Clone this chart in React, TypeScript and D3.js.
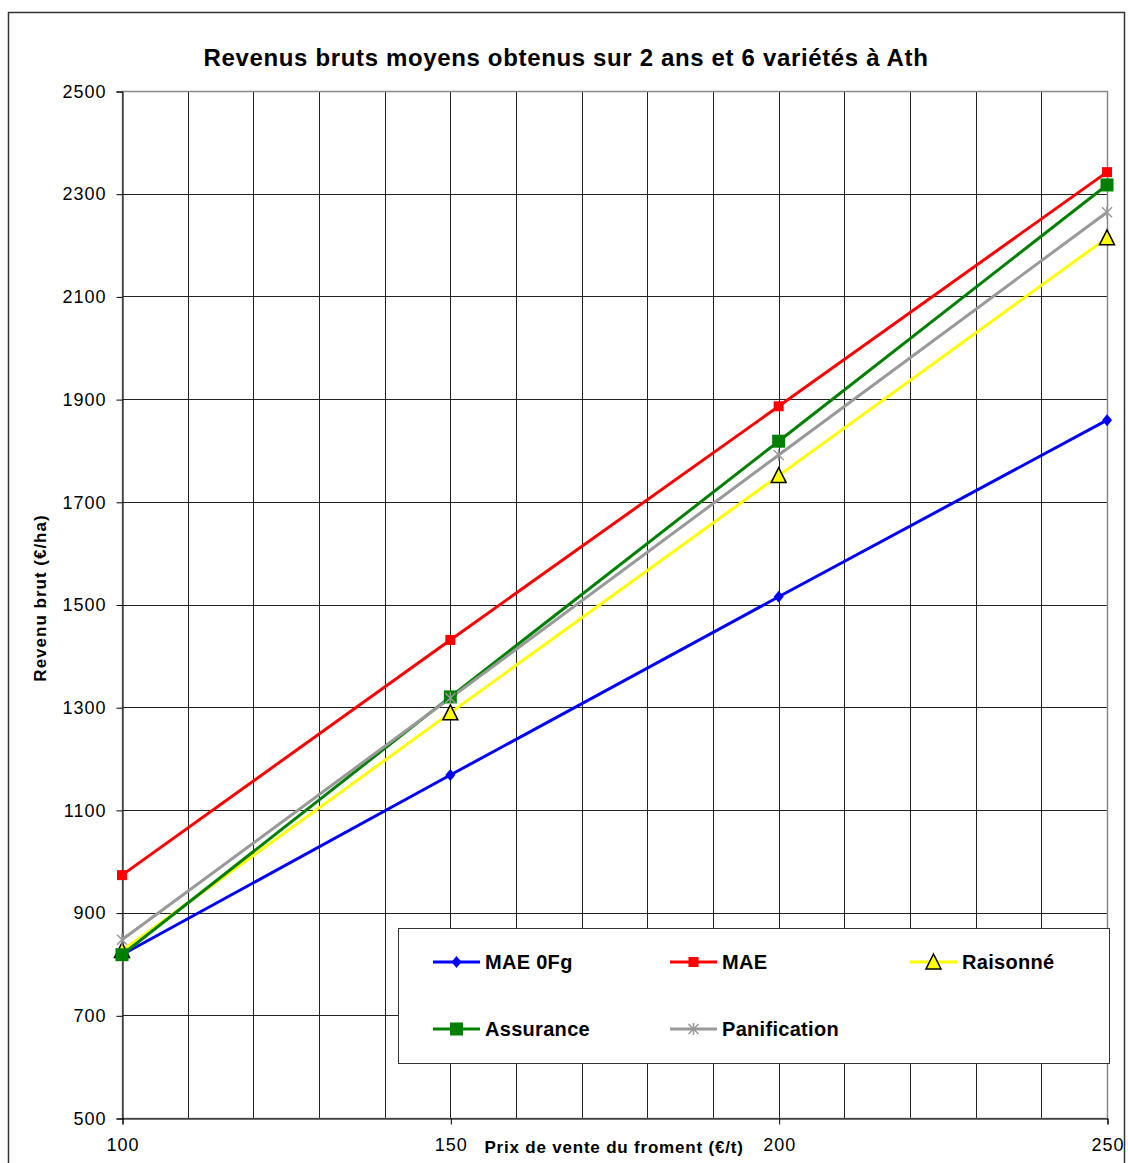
import { useEffect, useRef } from "react";
import * as d3 from "d3";

const prices = [100, 150, 200, 250];
const mae0fg = [818, 1168, 1515, 1859];
const mae = [973, 1431, 1886, 2342];
const raisonne = [826, 1289, 1751, 2214];
const assurance = [818, 1320, 1818, 2317];
const panification = [847, 1318, 1791, 2264];

const xTicks = [100, 150, 200, 250];
const yTicks = [500, 700, 900, 1100, 1300, 1500, 1700, 1900, 2100, 2300, 2500];

const width = 1128;
const height = 1163;
const PLOT = { left: 122, right: 1107, top: 91, bottom: 1118 };
const FONT = "Arial, 'Liberation Sans', sans-serif";

type Series = { name: string; color: string; marker: string; values: number[] };

const series: Series[] = [
  { name: "MAE 0Fg", color: "#0000ff", marker: "diamond", values: mae0fg },
  { name: "MAE", color: "#ff0000", marker: "square", values: mae },
  { name: "Raisonné", color: "#ffff00", marker: "triangle", values: raisonne },
  { name: "Assurance", color: "#008000", marker: "bigsquare", values: assurance },
  { name: "Panification", color: "#999999", marker: "star", values: panification }
];

function drawMarker(g: any, kind: string, color: string, x: number, y: number) {
  if (kind === "diamond") {
    g.append("path")
      .attr("d", `M${x},${y - 6}L${x + 5},${y}L${x},${y + 6}L${x - 5},${y}Z`)
      .attr("fill", color);
  } else if (kind === "square") {
    g.append("rect").attr("x", x - 5).attr("y", y - 5).attr("width", 10).attr("height", 10).attr("fill", color);
  } else if (kind === "bigsquare") {
    g.append("rect").attr("x", x - 6.5).attr("y", y - 6.5).attr("width", 13).attr("height", 13).attr("fill", color);
  } else if (kind === "triangle") {
    g.append("path")
      .attr("d", `M${x},${y - 8}L${x + 7.5},${y + 7}L${x - 7.5},${y + 7}Z`)
      .attr("fill", color)
      .attr("stroke", "#000")
      .attr("stroke-width", 1.5);
  } else if (kind === "star") {
    g.append("path")
      .attr("d", `M${x - 5},${y - 5}L${x + 5},${y + 5}M${x - 5},${y + 5}L${x + 5},${y - 5}M${x},${y - 6}L${x},${y + 6}`)
      .attr("stroke", color)
      .attr("stroke-width", 1.5);
  }
}

function App() {
  const svgRef = useRef(null);

  useEffect(() => {
    document.body.style.margin = "0";
    const svg = d3.select(svgRef.current);
    svg.selectAll("*").remove();

    const x = d3.scaleLinear().domain([100, 250]).range([PLOT.left, PLOT.right]);
    const y = d3.scaleLinear().domain([500, 2500]).range([PLOT.bottom, PLOT.top]);

    // outer frame
    svg.append("rect")
      .attr("x", 8.5).attr("y", 12.5)
      .attr("width", 1116).attr("height", 1170)
      .attr("fill", "#fff").attr("stroke", "#333").attr("stroke-width", 1.5);

    // title
    svg.append("text")
      .attr("x", 566).attr("y", 66)
      .attr("text-anchor", "middle")
      .style("font-family", FONT)
      .style("font-size", "24px").style("font-weight", "bold")
      .style("letter-spacing", "0.65px")
      .text("Revenus bruts moyens obtenus sur 2 ans et 6 variétés à Ath");

    // grid
    const grid = svg.append("g").attr("stroke", "#222").attr("stroke-width", 1);
    grid.selectAll("line.v")
      .data(d3.range(100, 251, 10))
      .join("line")
      .attr("x1", d => Math.round(x(d)) + 0.5).attr("x2", d => Math.round(x(d)) + 0.5)
      .attr("y1", PLOT.top).attr("y2", PLOT.bottom);
    grid.selectAll("line.h")
      .data(yTicks)
      .join("line")
      .attr("x1", PLOT.left).attr("x2", PLOT.right)
      .attr("y1", d => Math.round(y(d)) + 0.5).attr("y2", d => Math.round(y(d)) + 0.5);

    // plot border (grey)
    svg.append("rect")
      .attr("x", PLOT.left + 0.5).attr("y", PLOT.top + 0.5)
      .attr("width", PLOT.right - PLOT.left).attr("height", PLOT.bottom - PLOT.top)
      .attr("fill", "none").attr("stroke", "#888").attr("stroke-width", 1.5);

    // axes
    const yAxis = svg.append("g")
      .attr("transform", `translate(${PLOT.left + 0.5},0.5)`)
      .call(d3.axisLeft(y).tickValues(yTicks).tickSize(6).tickPadding(10).tickFormat(d3.format("d")));
    yAxis.select(".domain").attr("stroke", "#000");
    yAxis.selectAll(".tick line").attr("stroke", "#000");
    yAxis.selectAll("text")
      .style("font-family", FONT)
      .style("font-size", "18px").style("letter-spacing", "1px").attr("fill", "#000");

    const xAxis = svg.append("g")
      .attr("transform", `translate(0.5,${PLOT.bottom + 0.5})`)
      .call(d3.axisBottom(x).tickValues(xTicks).tickSize(6).tickPadding(14).tickFormat(d3.format("d")));
    xAxis.select(".domain").attr("stroke", "#000");
    xAxis.selectAll(".tick line").attr("stroke", "#000");
    xAxis.selectAll("text")
      .style("font-family", FONT)
      .style("font-size", "18px").style("letter-spacing", "1px").attr("fill", "#000");

    // axis titles
    svg.append("text")
      .attr("x", 614).attr("y", 1153)
      .attr("text-anchor", "middle")
      .style("font-family", FONT)
      .style("font-size", "17px").style("font-weight", "bold")
      .style("letter-spacing", "0.8px")
      .text("Prix de vente du froment (€/t)");

    svg.append("text")
      .attr("transform", `translate(46,598) rotate(-90)`)
      .attr("text-anchor", "middle")
      .style("font-family", FONT)
      .style("font-size", "17px").style("font-weight", "bold")
      .style("letter-spacing", "1px")
      .text("Revenu brut (€/ha)");

    // series lines
    const line = d3.line<number>()
      .x((_, i) => x(prices[i]))
      .y(d => y(d));

    series.forEach(s => {
      svg.append("path")
        .datum(s.values)
        .attr("fill", "none")
        .attr("stroke", s.color)
        .attr("stroke-width", 3)
        .attr("d", line);
    });
    series.forEach(s => {
      const g = svg.append("g");
      s.values.forEach((v, i) => drawMarker(g, s.marker, s.color, x(prices[i]), y(v)));
    });

    // legend
    const legend = svg.append("g");
    legend.append("rect")
      .attr("x", 398.5).attr("y", 928.5)
      .attr("width", 711).attr("height", 135)
      .attr("fill", "#fff").attr("stroke", "#333").attr("stroke-width", 1);

    const legendPos = [
      { x: 433, y: 962 },
      { x: 670, y: 962 },
      { x: 910, y: 962 },
      { x: 433, y: 1029 },
      { x: 670, y: 1029 }
    ];
    series.forEach((s, i) => {
      const p = legendPos[i];
      legend.append("line")
        .attr("x1", p.x).attr("x2", p.x + 47)
        .attr("y1", p.y).attr("y2", p.y)
        .attr("stroke", s.color).attr("stroke-width", 3);
      drawMarker(legend, s.marker, s.color, p.x + 23.5, p.y);
      legend.append("text")
        .attr("x", p.x + 52).attr("y", p.y + 7)
        .style("font-family", FONT)
        .style("font-size", "20px").style("font-weight", "bold")
        .style("letter-spacing", "0.3px")
        .text(s.name);
    });
  }, []);

  return (
    <div>
      <svg width={width} height={height} ref={svgRef} style={{ display: "block" }}></svg>
    </div>
  );
}

export default App;
